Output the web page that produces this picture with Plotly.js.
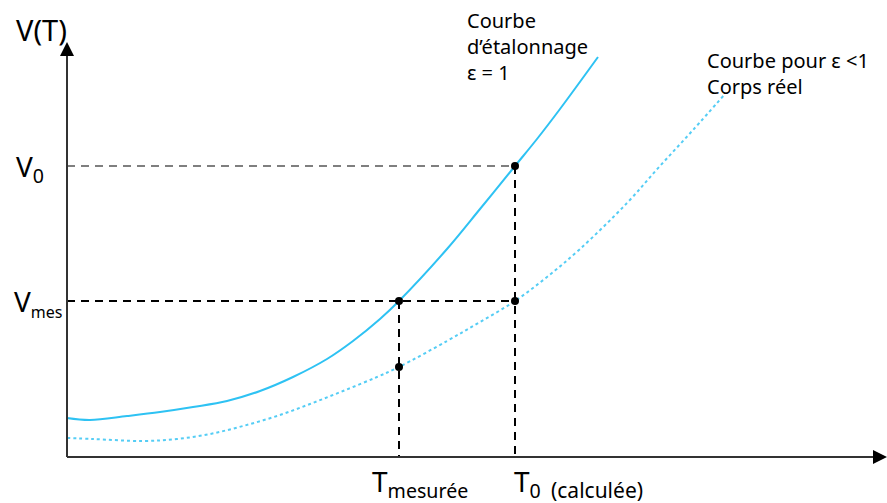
<!DOCTYPE html>
<html>
<head>
<meta charset="utf-8">
<script src="https://cdn.plot.ly/plotly-3.0.1.min.js"></script>
<style>html,body{margin:0;padding:0;background:#fff;}#chart{width:887px;height:503px;}</style>
</head>
<body>
<div id="chart"></div>
<script>
// Calibration curve (epsilon = 1)
const T_solid = [0, 23, 60, 93, 126, 160, 193, 226, 260, 286, 313, 332, 380, 413, 448, 470, 493, 531];
const V_solid = [39, 37, 41, 45, 50, 56, 66, 80, 98, 116, 138, 156, 208, 248, 291, 318, 348, 400];
// Real body curve (epsilon < 1)
const T_dotted = [0, 26, 76, 110, 143, 176, 210, 243, 276, 310, 332, 380, 413, 448, 480, 513, 560, 593, 626, 658];
const V_dotted = [19, 18, 16, 18, 23, 31, 41, 53, 66, 80, 90, 116, 135, 156, 180, 208, 254, 291, 327, 363];
// Key values
const T_mes = 332, T_0 = 448;
const V_mes = 156, V_0 = 291, V_real_at_Tmes = 90;
const T_axis_end = 820, V_axis_end = 415;
// Labels
const labelVT = "V(T)";
const labelV0 = "V<sub>0</sub>";
const labelVmes = "V<sub><span style=\"font-size:16px\">mes</span></sub>";
const labelTmes = "T<sub>mesurée</sub>";
const labelT0 = "T<sub>0&nbsp;&nbsp;<span style=\"font-size:21px\">(calculée)</span></sub>";
const labelT = "T";
const labelCalib = "Courbe<br>d’étalonnage<br>ε = 1";
const labelReal = "Courbe pour ε <1<br>Corps réel";

const FONT = "Noto Sans, Open Sans, DejaVu Sans, sans-serif";
const cyan = "#2EC2F3";
const cyanLight = "#55CDF5";

const traces = [
  {x: T_dotted, y: V_dotted, mode: "lines", line: {color: cyanLight, width: 2, dash: "dot", shape: "spline", smoothing: 1}, hoverinfo: "skip"},
  {x: T_solid, y: V_solid, mode: "lines", line: {color: cyan, width: 2, shape: "spline", smoothing: 1}, hoverinfo: "skip"},
  {x: [T_mes, T_0, T_0, T_mes], y: [V_mes, V_0, V_mes, V_real_at_Tmes], mode: "markers",
   marker: {color: "#000", size: 8}, hoverinfo: "skip"}
];

const ah = 14, aw = 7;
const shapes = [
  // dashed guide lines
  {type: "line", x0: 0, y0: V_0, x1: T_0, y1: V_0, line: {color: "#555", width: 1.6, dash: "8px,6px"}},
  {type: "line", x0: T_0, y0: V_0, x1: T_0, y1: 0, line: {color: "#000", width: 2, dash: "8px,6px"}},
  {type: "line", x0: 0, y0: V_mes, x1: T_0, y1: V_mes, line: {color: "#000", width: 2, dash: "8px,6px"}},
  {type: "line", x0: T_mes, y0: V_mes, x1: T_mes, y1: 0, line: {color: "#000", width: 2, dash: "8px,6px"}},
  // axes
  {type: "line", x0: 0, y0: 0, x1: T_axis_end - ah, y1: 0, line: {color: "#333", width: 2}},
  {type: "line", x0: 0, y0: 0, x1: 0, y1: V_axis_end - ah, line: {color: "#333", width: 2}},
  {type: "path", path: `M ${T_axis_end - ah} ${-aw} L ${T_axis_end} 0 L ${T_axis_end - ah} ${aw} Z`, fillcolor: "#000", line: {width: 0}},
  {type: "path", path: `M ${-aw} ${V_axis_end - ah} L 0 ${V_axis_end} L ${aw} ${V_axis_end - ah} Z`, fillcolor: "#000", line: {width: 0}}
];

function ann(text, x, y, size, xanchor, yanchor, align) {
  return {text: text, x: x, y: y, xref: "x", yref: "y", showarrow: false,
          xanchor: xanchor, yanchor: yanchor, align: align || "left",
          font: {family: FONT, size: size, color: "#000"}};
}

const annotations = [
  ann(labelVT, -26, 428, 29, "center", "middle"),
  ann(labelV0, -53, V_0 - 2, 28, "left", "middle"),
  ann(labelVmes, -55, V_mes - 1, 28, "left", "middle"),
  ann(labelTmes, T_mes - 29, -26, 28, "left", "middle"),
  ann(labelT0, T_0 - 3, -26, 28, "left", "middle"),
  ann(labelT, T_axis_end + 1, -25, 28, "right", "middle"),
  ann(labelCalib, 398, 452, 20, "left", "top"),
  ann(labelReal, 638, 412, 20, "left", "top")
];

const layout = {
  width: 887, height: 503,
  margin: {l: 0, r: 0, t: 0, b: 0, pad: 0},
  paper_bgcolor: "#fff", plot_bgcolor: "#fff",
  showlegend: false,
  xaxis: {range: [-67, 820], visible: false, fixedrange: true},
  yaxis: {range: [-46, 457], visible: false, fixedrange: true},
  shapes: shapes,
  annotations: annotations
};

Plotly.newPlot("chart", traces, layout, {staticPlot: true, displayModeBar: false});
</script>
</body>
</html>
